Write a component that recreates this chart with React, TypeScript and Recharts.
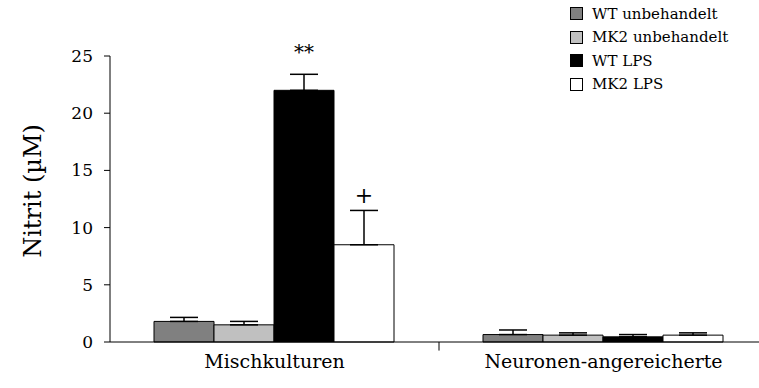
import { BarChart, Bar, XAxis, YAxis, ErrorBar, LabelList, ReferenceLine } from 'recharts'

const categories = ['Mischkulturen', 'Neuronen-angereicherte']
const wtUnbehandelt = [1.8, 0.65]
const wtUnbehandeltErr = [0.35, 0.4]
const mk2Unbehandelt = [1.5, 0.6]
const mk2UnbehandeltErr = [0.3, 0.2]
const wtLps = [22.0, 0.45]
const wtLpsErr = [1.4, 0.2]
const mk2Lps = [8.5, 0.6]
const mk2LpsErr = [3.0, 0.2]
const wtLpsMarks = ['**', '']
const mk2LpsMarks = ['+', '']
const yTicks = [0, 5, 10, 15, 20, 25]

const series = [
  { key: 'wtUnb', name: 'WT unbehandelt', fill: '#808080' },
  { key: 'mk2Unb', name: 'MK2 unbehandelt', fill: '#c0c0c0' },
  { key: 'wtLps', name: 'WT LPS', fill: '#000000' },
  { key: 'mk2Lps', name: 'MK2 LPS', fill: '#ffffff' },
]

const data = categories.map((name, i) => ({
  name,
  wtUnb: wtUnbehandelt[i],
  wtUnbErr: [0, wtUnbehandeltErr[i]],
  mk2Unb: mk2Unbehandelt[i],
  mk2UnbErr: [0, mk2UnbehandeltErr[i]],
  wtLps: wtLps[i],
  wtLpsErr: [0, wtLpsErr[i]],
  wtLpsMark: wtLpsMarks[i],
  mk2Lps: mk2Lps[i],
  mk2LpsErr: [0, mk2LpsErr[i]],
  mk2LpsMark: mk2LpsMarks[i],
}))

const font = '"DejaVu Serif", serif'

function LegendBox() {
  return (
    <div style={{ position: 'absolute', left: 570, top: 2, fontFamily: font, fontSize: 15, color: '#000' }}>
      {series.map((s) => (
        <div key={s.key} style={{ display: 'flex', alignItems: 'center', height: 23.5, whiteSpace: 'nowrap' }}>
          <span
            style={{
              display: 'inline-block',
              width: 11,
              height: 11,
              background: s.fill,
              border: '1px solid #000',
              marginRight: 9,
            }}
          />
          <span>{s.name}</span>
        </div>
      ))}
    </div>
  )
}

export default function App() {
  return (
    <div style={{ position: 'absolute', left: 0, top: 0, width: 759, height: 388, overflow: 'hidden', background: '#fff', fontFamily: font }}>
      <BarChart
        width={780}
        height={388}
        data={data}
        margin={{ top: 56, right: 12, left: 0, bottom: 0 }}
        barCategoryGap={44}
        barGap={0}
        style={{ fontFamily: font }}
      >
        <XAxis
          dataKey="name"
          height={46}
          axisLine={{ stroke: '#000' }}
          tickLine={false}
          tickSize={6}
          tickMargin={7}
          tick={{ fontSize: 19, fill: '#000', fontFamily: font }}
        />
        <YAxis
          width={110}
          domain={[0, 25]}
          ticks={yTicks}
          axisLine={{ stroke: '#000' }}
          tickLine={{ stroke: '#000' }}
          tickSize={6}
          tickMargin={11}
          tick={{ fontSize: 17, fill: '#000', fontFamily: font }}
          label={{ value: 'Nitrit (µM)', angle: -90, position: 'center', dx: -23, dy: -8, style: { fontSize: 24, fill: '#000', fontFamily: font } }}
        />
        <ReferenceLine
          segment={[{ x: categories[0], y: 0 }, { x: categories[0], y: -0.75 }]}
          position="end"
          stroke="#000"
          ifOverflow="visible"
        />
        <Bar dataKey="wtUnb" name="WT unbehandelt" fill="#808080" stroke="#000" strokeWidth={1} isAnimationActive={false}>
          <ErrorBar dataKey="wtUnbErr" direction="y" width={14} stroke="#000" strokeWidth={1.5} />
        </Bar>
        <Bar dataKey="mk2Unb" name="MK2 unbehandelt" fill="#c0c0c0" stroke="#000" strokeWidth={1} isAnimationActive={false}>
          <ErrorBar dataKey="mk2UnbErr" direction="y" width={14} stroke="#000" strokeWidth={1.5} />
        </Bar>
        <Bar dataKey="wtLps" name="WT LPS" fill="#000000" stroke="#000" strokeWidth={1} isAnimationActive={false}>
          <ErrorBar dataKey="wtLpsErr" direction="y" width={14} stroke="#000" strokeWidth={1.5} />
          <LabelList dataKey="wtLpsMark" position="top" offset={31} style={{ fontSize: 20, fill: '#000', fontFamily: font }} />
        </Bar>
        <Bar dataKey="mk2Lps" name="MK2 LPS" fill="#ffffff" stroke="#000" strokeWidth={1} isAnimationActive={false}>
          <ErrorBar dataKey="mk2LpsErr" direction="y" width={14} stroke="#000" strokeWidth={1.5} />
          <LabelList dataKey="mk2LpsMark" position="top" offset={42} style={{ fontSize: 22, fill: '#000', fontFamily: font }} />
        </Bar>
      </BarChart>
      <LegendBox />
    </div>
  )
}
